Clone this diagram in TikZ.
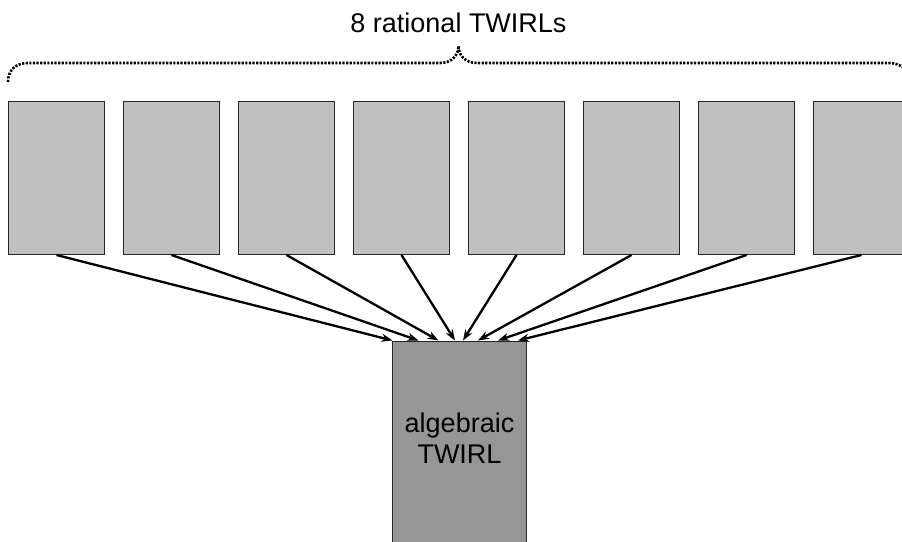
\documentclass[tikz,border=0pt]{standalone}
\usepackage{fontspec}
\setmainfont{Liberation Sans}
\usetikzlibrary{arrows.meta}
\definecolor{lightbox}{HTML}{C0C0C0}
\definecolor{darkbox}{HTML}{969696}
\tikzset{
  ratbox/.style={draw=black!85, line width=1pt, fill=lightbox, rectangle,
    minimum width=96.7pt, minimum height=153.5pt, inner sep=0pt},
  algbox/.style={draw=black!85, line width=1pt, fill=darkbox, rectangle,
    minimum width=134.4pt, minimum height=201pt, inner sep=0pt,
    font=\fontsize{27}{31.6}\selectfont},
  feed/.style={line width=2.3pt, -{Stealth[length=11pt,width=8pt,inset=3.5pt]}},
  bracepath/.style={line width=2.6pt, dash pattern=on 2.2pt off 1.4pt},
  titletext/.style={font=\fontsize{27}{30}\selectfont, inner sep=0pt, anchor=base}
}
\begin{document}
\begin{tikzpicture}[x=1pt, y=-1pt]
  \useasboundingbox (0,0) rectangle (902,541);
  \clip (0,0) rectangle (902,541);

  % the eight rational TWIRL units
  \foreach \i in {1,...,8} {
    \node[ratbox] (r\i) at ({56.5+115*(\i-1)}, 177.75) {};
  }

  % the algebraic TWIRL unit
  \node[algbox] (alg) at (459.5, 441.5)
    {\raisebox{3.5pt}{\begin{tabular}{@{}c@{}}algebraic\\[-1pt]TWIRL\end{tabular}}};

  % connections from each rational unit into the algebraic unit
  \draw[feed] (r1.south) -- ([xshift=-67pt]alg.north);
  \draw[feed] (r2.south) -- ([xshift=-41pt]alg.north);
  \draw[feed] (r3.south) -- ([xshift=-21pt]alg.north);
  \draw[feed] (r4.south) -- ([xshift=-4.5pt]alg.north);
  \draw[feed] (r5.south) -- ([xshift=3.5pt]alg.north);
  \draw[feed] (r6.south) -- ([xshift=18.5pt]alg.north);
  \draw[feed] (r7.south) -- ([xshift=38.5pt]alg.north);
  \draw[feed] (r8.south) -- ([xshift=58.5pt]alg.north);

  % dotted brace grouping the rational units
  \draw[bracepath] (8,82) .. controls (8,70) and (16,63) .. (28,63)
    -- (440,63) .. controls (452,63) and (458.5,55) .. (458.5,46)
    .. controls (458.5,55) and (465,63) .. (477,63)
    -- (889,63) .. controls (901,63) and (909,70) .. (909,82);

  \node[titletext] (title) at (458.5,32) {8 rational TWIRLs};
\end{tikzpicture}
\end{document}
